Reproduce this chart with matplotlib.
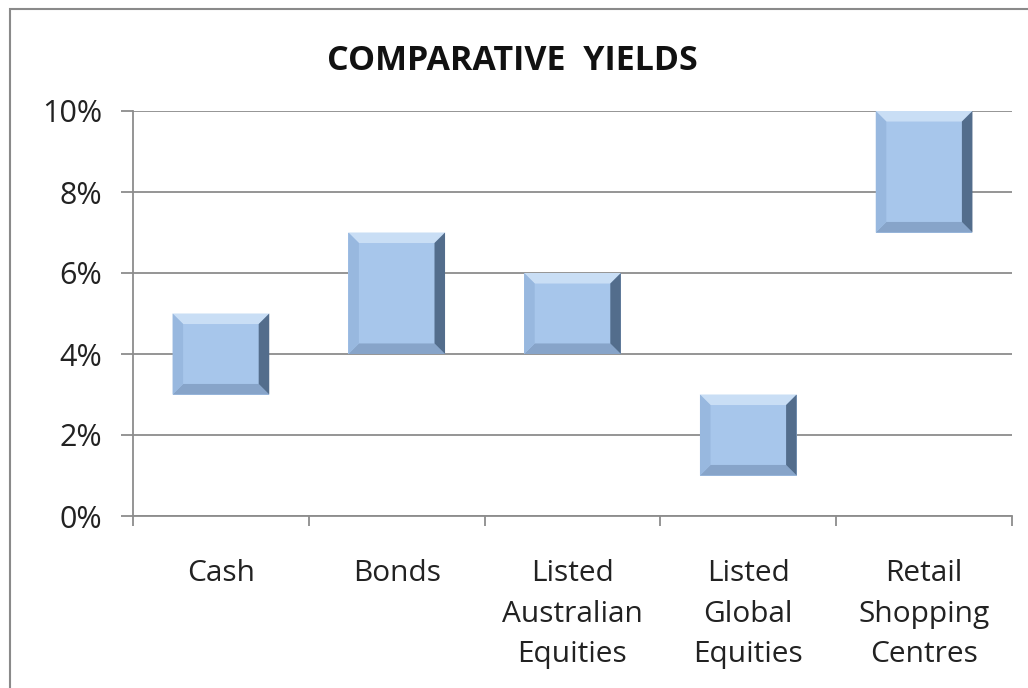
import numpy as np
import matplotlib as mpl
import matplotlib.pyplot as plt
from matplotlib.patches import Polygon, Rectangle
mpl.use('agg')

## data
categories = ['Cash', 'Bonds', 'Listed\nAustralian\nEquities', 'Listed\nGlobal\nEquities', 'Retail\nShopping\nCentres']
low = [3, 4, 4, 1, 7]
high = [5, 7, 6, 3, 10]
yticks = [0, 2, 4, 6, 8, 10]

plt.rcParams['font.family'] = ['Open Sans', 'DejaVu Sans']

fig = plt.figure(figsize=(10.28, 6.88), dpi=100)
fig.patch.set_facecolor('white')
# outer chart frame
fig.patches.append(Rectangle((10/1028, -0.01), 1.05, 1 - 9/688 + 0.01, transform=fig.transFigure,
                             fill=False, edgecolor='#8a8a8a', linewidth=1.5))

ax = fig.add_axes([133/1028, 1 - 516/688, (1012 - 133)/1028, (516 - 111)/688])

x = np.arange(len(categories))
w = 0.55
heights = [h - l for h, l in zip(high, low)]
bars = ax.bar(x, heights, bottom=low, width=w, color='#a7c6eb', edgecolor='none', zorder=3)

## bevel edges
bx = 0.06   # bevel in x data units
by = 0.26   # bevel in y data units
for b in bars:
    x0, y0 = b.get_x(), b.get_y()
    x1, y1 = x0 + b.get_width(), y0 + b.get_height()
    top = [(x0, y1), (x1, y1), (x1 - bx, y1 - by), (x0 + bx, y1 - by)]
    bot = [(x0, y0), (x1, y0), (x1 - bx, y0 + by), (x0 + bx, y0 + by)]
    lft = [(x0, y0), (x0, y1), (x0 + bx, y1 - by), (x0 + bx, y0 + by)]
    rgt = [(x1, y0), (x1, y1), (x1 - bx, y1 - by), (x1 - bx, y0 + by)]
    ax.add_patch(Polygon(top, closed=True, facecolor='#c9def5', edgecolor='none', zorder=4))
    ax.add_patch(Polygon(bot, closed=True, facecolor='#87a4c9', edgecolor='none', zorder=4))
    ax.add_patch(Polygon(lft, closed=True, facecolor='#98b8df', edgecolor='none', zorder=4))
    ax.add_patch(Polygon(rgt, closed=True, facecolor='#536d8c', edgecolor='none', zorder=4))

ax.set_xlim(-0.5, len(categories) - 0.5)
ax.set_ylim(0, 10)
ax.set_yticks(yticks)
ax.set_yticklabels(['%d%%' % v for v in yticks])
ax.yaxis.grid(True, color='#8c8c8c', linewidth=1.3, zorder=0)
ax.set_axisbelow(True)

ax.set_xticks(np.arange(len(categories) + 1) - 0.5)
ax.set_xticklabels([])
ax.set_xticks(x, minor=True)
ax.set_xticklabels(categories, minor=True, fontsize=21.5, color='#222222', linespacing=1.53)
ax.tick_params(axis='x', which='minor', length=0, pad=31)
ax.tick_params(axis='x', which='major', length=7, width=1.3, color='#8c8c8c', direction='out')
ax.tick_params(axis='y', length=9, width=1.3, color='#8c8c8c', labelsize=22, labelcolor='#222222', pad=13)

for s in ['top', 'right']:
    ax.spines[s].set_visible(False)
for s in ['left', 'bottom']:
    ax.spines[s].set_color('#8c8c8c')
    ax.spines[s].set_linewidth(1.3)

fig.text(512/1028, 1 - 61/688, 'COMPARATIVE  YIELDS', ha='center', va='center',
         fontsize=24.5, fontweight='bold', color='#111111')

fig.savefig('out.png', dpi=100)
